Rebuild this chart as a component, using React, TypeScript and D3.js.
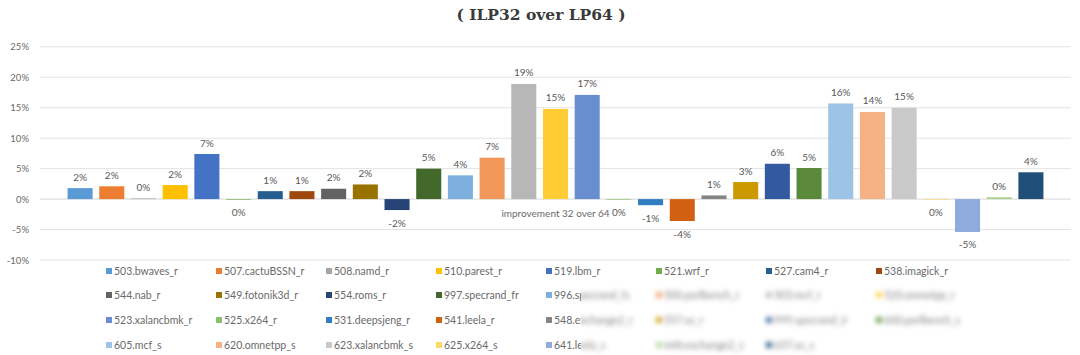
import React from "react";
import * as d3 from "d3";

const seriesNames = [
  "503.bwaves_r", "507.cactuBSSN_r", "508.namd_r", "510.parest_r", "519.lbm_r", "521.wrf_r", "527.cam4_r", "538.imagick_r",
  "544.nab_r", "549.fotonik3d_r", "554.roms_r", "997.specrand_fr", "996.specrand_fs", "500.perlbench_r", "505.mcf_r", "520.omnetpp_r",
  "523.xalancbmk_r", "525.x264_r", "531.deepsjeng_r", "541.leela_r", "548.exchange2_r", "557.xz_r", "999.specrand_ir", "600.perlbench_s",
  "605.mcf_s", "620.omnetpp_s", "623.xalancbmk_s", "625.x264_s", "641.leela_s", "648.exchange2_s", "657.xz_s",
];

const values = [
  1.8, 2.1, 0.1, 2.3, 7.4, -0.1, 1.3, 1.3,
  1.7, 2.4, -1.8, 5.0, 3.9, 6.8, 18.9, 14.8,
  17.1, -0.1, -1.0, -3.6, 0.6, 2.8, 5.8, 5.1,
  15.7, 14.3, 15.0, -0.1, -5.4, 0.3, 4.4,
];

const colors = [
  "#5B9BD5", "#ED7D31", "#A5A5A5", "#FFC000", "#4472C4", "#70AD47", "#255E91", "#9E480E",
  "#636363", "#997300", "#264478", "#43682B", "#7CAFDD", "#F1975A", "#B7B7B7", "#FFCD33",
  "#698ED0", "#8CC168", "#327DC2", "#D26012", "#848484", "#CC9A00", "#335AA1", "#5A8A39",
  "#9DC3E6", "#F4B183", "#C9C9C9", "#FFD966", "#8FAADC", "#A9D18E", "#1F4E79",
];

const yTicks = [-10, -5, 0, 5, 10, 15, 20, 25];
const categoryLabel = "improvement 32 over 64";
const subtitle = "( ILP32 over LP64 )";

const W = 1080;
const H = 355;
const plotLeft = 40;
const plotRight = 1071;
const labelFont = "Lato, 'Open Sans', sans-serif";

export default function App() {
  const x = d3
    .scaleBand<string>()
    .domain(seriesNames)
    .range([plotLeft, plotRight])
    .paddingInner(0.21)
    .paddingOuter(0.87);
  const y = d3.scaleLinear().domain([-10, 25]).range([260, 46.8]);
  const bw = x.bandwidth();

  const legendCols = 8;
  const legX = (i: number) => 106 + 110 * (i % legendCols);
  const legRows = [271, 295, 320, 345];
  const legY = (i: number) => legRows[Math.floor(i / legendCols)];

  // blurred region of the legend (as in the reference)
  const blurX = 581;
  const blurY = 283;
  const inBlurFully = (i: number) => Math.floor(i / legendCols) >= 1 && i % legendCols >= 5;
  const touchesBlur = (i: number) => Math.floor(i / legendCols) >= 1 && i % legendCols >= 4;

  const legendItem = (name: string, i: number) => (
    <g key={name}>
      <rect x={legX(i)} y={legY(i) - 3} width={6} height={6} fill={colors[i]} />
      <text
        x={legX(i) + 8}
        y={legY(i) + 3.5}
        fontSize={10.5}
        fill="#6a6a6a"
        fontFamily={labelFont}
      >
        {name}
      </text>
    </g>
  );

  return (
    <svg
      width={W}
      height={H}
      style={{ position: "absolute", left: 0, top: 0, background: "#fff" }}
    >
      <defs>
        <filter id="blurF" x="-10%" y="-50%" width="120%" height="200%">
          <feGaussianBlur stdDeviation="2.6" />
        </filter>
        <clipPath id="clipNormal">
          <rect x={0} y={0} width={blurX} height={H} />
          <rect x={0} y={0} width={W} height={blurY} />
        </clipPath>
        <clipPath id="clipBlur">
          <rect x={blurX} y={blurY} width={W - blurX} height={H - blurY} />
        </clipPath>
      </defs>
      <rect x={0} y={0} width={W} height={H} fill="#fff" />

      {/* title */}
      <text
        x={541}
        y={20}
        textAnchor="middle"
        fontSize={15.5}
        fontWeight="bold"
        fontFamily="'DejaVu Serif', serif"
        fill="#3a3a3a"
      >
        {subtitle}
      </text>

      {/* gridlines and y labels */}
      {yTicks.map((t) => (
        <g key={t}>
          <line
            x1={plotLeft}
            x2={plotRight}
            y1={y(t)}
            y2={y(t)}
            stroke={t === 0 ? "#d6d6d6" : "#e3e3e3"}
            strokeWidth={1}
          />
          <text
            x={29}
            y={y(t) + 3.5}
            textAnchor="end"
            fontSize={9.5}
            fill="#6a6a6a"
            fontFamily={labelFont}
          >
            {`${t}%`}
          </text>
        </g>
      ))}

      {/* bars */}
      {seriesNames.map((name, i) => {
        const v = values[i];
        const x0 = x(name)!;
        const top = Math.min(y(v), y(0));
        const h = Math.abs(y(v) - y(0));
        return <rect key={name} x={x0} y={top} width={bw} height={h} fill={colors[i]} />;
      })}

      {/* category label */}
      <text
        x={(plotLeft + plotRight) / 2}
        y={217}
        textAnchor="middle"
        fontSize={10}
        fill="#6a6a6a"
        fontFamily={labelFont}
      >
        {categoryLabel}
      </text>

      {/* data labels */}
      {seriesNames.map((name, i) => {
        const v = values[i];
        const cx = x(name)! + bw / 2;
        const ly = v >= 0 ? y(v) - 7.5 : y(v) + 16.5;
        return (
          <text
            key={name}
            x={cx}
            y={ly}
            textAnchor="middle"
            fontSize={10}
            fill="#595959"
            fontFamily={labelFont}
          >
            {`${Math.round(v)}%`}
          </text>
        );
      })}

      {/* legend */}
      <g clipPath="url(#clipNormal)">
        {seriesNames.map((n, i) => (inBlurFully(i) ? null : legendItem(n, i)))}
      </g>
      <g clipPath="url(#clipBlur)">
        <g filter="url(#blurF)" opacity={0.85}>
          {seriesNames.map((n, i) => (touchesBlur(i) ? legendItem(n, i) : null))}
        </g>
      </g>
    </svg>
  );
}
